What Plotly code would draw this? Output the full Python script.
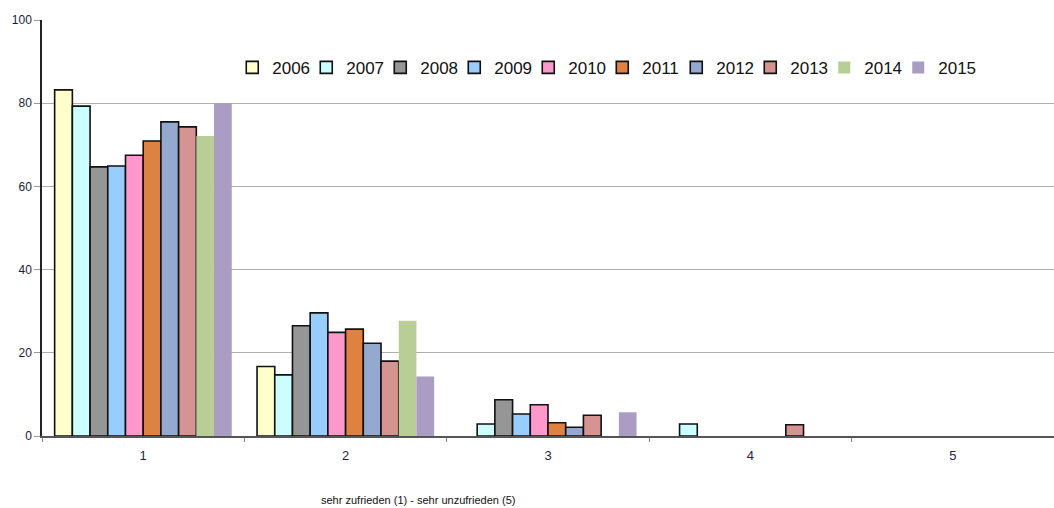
import plotly.graph_objects as go

categories = ["1", "2", "3", "4", "5"]
years = ["2006", "2007", "2008", "2009", "2010", "2011", "2012", "2013", "2014", "2015"]
# None = no visible bar in the reference
values = {
    "2006": [83.2, 16.7, None, None, None],
    "2007": [79.3, 14.7, 2.9, 2.9, None],
    "2008": [64.7, 26.5, 8.7, None, None],
    "2009": [64.9, 29.6, 5.3, None, None],
    "2010": [67.5, 24.9, 7.5, None, None],
    "2011": [70.9, 25.7, 3.2, None, None],
    "2012": [75.5, 22.3, 2.1, None, None],
    "2013": [74.3, 18.0, 5.0, 2.7, None],
    "2014": [72.1, 27.7, None, None, None],
    "2015": [80.0, 14.3, 5.7, None, None],
}
colors = ["#FFFFCC", "#CCFFFF", "#969696", "#99CCFF", "#FF99CC",
          "#DD8240", "#95A9D0", "#D59391", "#B9CE96", "#AA9CC2"]
outlined = [True, True, True, True, True, True, True, True, False, False]
y_ticks = [0, 20, 40, 60, 80, 100]

fig = go.Figure()
for yr, col, ol in zip(years, colors, outlined):
    fig.add_trace(go.Bar(
        x=categories, y=values[yr], name=yr,
        marker=dict(color=col,
                    line=dict(color="#111111" if ol else col, width=1.6 if ol else 0)),
    ))
# invisible spacer legend entry so the last legend label is not clipped
fig.add_trace(go.Scatter(x=[categories[0]], y=[0], name=" ", mode="markers",
                         hoverinfo="skip",
                         marker=dict(opacity=0, color="rgba(0,0,0,0)")))

fig.update_layout(
    width=1054, height=508,
    margin=dict(l=42, r=0, t=20, b=72, autoexpand=False),
    paper_bgcolor="white", plot_bgcolor="white",
    barmode="group", bargap=0.125, bargroupgap=0,
    font=dict(family="Liberation Sans, Arial", color="#1a1a3a"),
    showlegend=True,
    legend=dict(orientation="h", x=0.188, y=0.885, xanchor="left", yanchor="middle",
                font=dict(size=17, color="#111111"),
                entrywidth=29, entrywidthmode="pixels",
                itemwidth=30, bgcolor="rgba(0,0,0,0)", traceorder="normal"),
    xaxis=dict(type="category", range=[-0.5, 4.5], showline=True, linecolor="#555555",
               linewidth=2, ticks="outside", tickson="boundaries", ticklen=4,
               tickcolor="#888888", tickfont=dict(size=13, color="#2a1a4a"),
               ticklabelstandoff=6, showgrid=False, zeroline=False),
    yaxis=dict(range=[0, 100], tickvals=y_ticks, showline=True, linecolor="#222222",
               linewidth=1.5, ticks="outside", ticklen=6, tickcolor="#999999",
               showgrid=True, gridcolor="#b0b0b0", gridwidth=1,
               tickfont=dict(size=12, color="#1a1a3a"), zeroline=False),
    annotations=[dict(text="sehr zufrieden (1) - sehr unzufrieden (5)",
                      xref="paper", yref="paper", x=0.372, y=-0.155,
                      xanchor="center", yanchor="middle", showarrow=False,
                      font=dict(size=11, color="#111111"))],
)

fig.write_html("out.html")
